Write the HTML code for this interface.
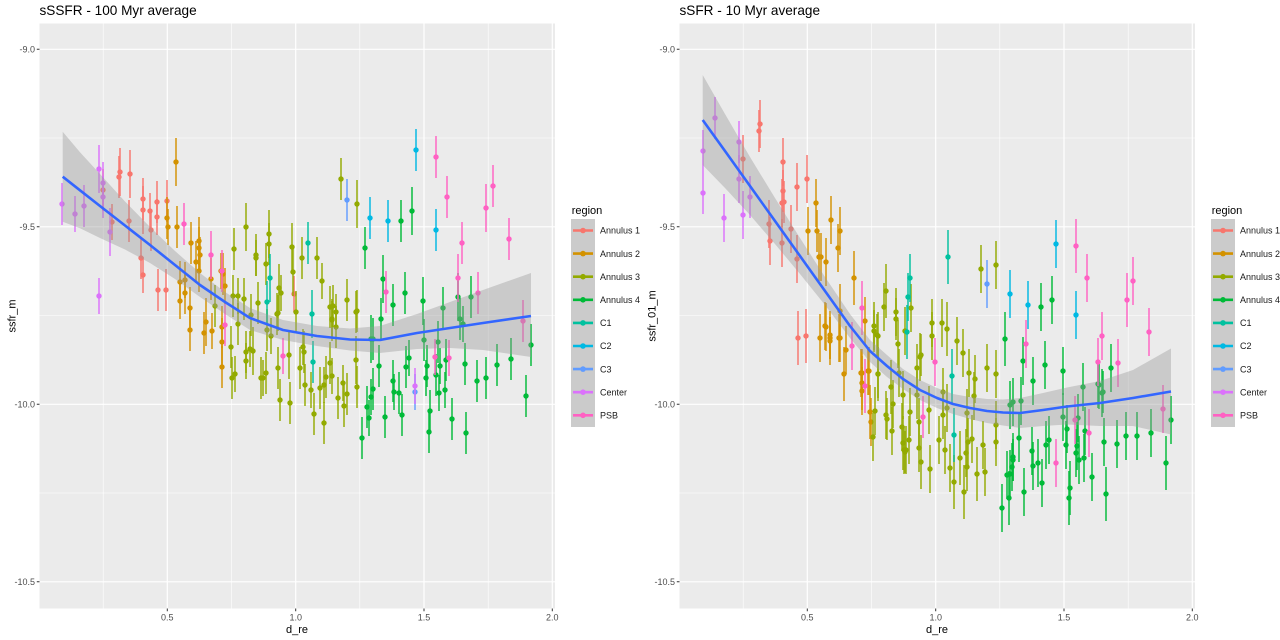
<!DOCTYPE html>
<html><head><meta charset="utf-8"><style>
html,body{margin:0;padding:0;background:#fff;}
svg{display:block;font-family:"Liberation Sans",Arial,sans-serif;}
.tk{font-size:9px;fill:#4D4D4D;}
.ttl{font-size:13.6px;fill:#000;}
.ax{font-size:11px;fill:#000;}
.lg{font-size:9px;fill:#1A1A1A;}
</style></head><body>
<svg width="1280" height="640" viewBox="0 0 1280 640" xmlns="http://www.w3.org/2000/svg">
<defs>
<g id="a"><path d="M0-18V18" stroke="currentColor" stroke-width="1.7" stroke-opacity=".85"/><circle r="2.7" fill="currentColor"/></g>
<g id="b"><path d="M0-21V21" stroke="currentColor" stroke-width="1.7" stroke-opacity=".85"/><circle r="2.7" fill="currentColor"/></g>
<g id="c"><path d="M0-24V24" stroke="currentColor" stroke-width="1.7" stroke-opacity=".85"/><circle r="2.7" fill="currentColor"/></g>
<g id="d"><path d="M0-27V27" stroke="currentColor" stroke-width="1.7" stroke-opacity=".85"/><circle r="2.7" fill="currentColor"/></g>
<clipPath id="cl"><rect x="39.5" y="23.5" width="515.5" height="585"/></clipPath>
<clipPath id="cr"><rect x="679.5" y="23.5" width="515.5" height="585"/></clipPath>
<clipPath id="cleg"><rect x="560" y="0" width="80" height="640"/></clipPath>
</defs>
<rect width="1280" height="640" fill="#fff"/>

<!-- ================= LEFT PANEL ================= -->
<text class="ttl" x="39.5" y="15">sSSFR - 100 Myr average</text>
<rect x="39.5" y="23.5" width="515.5" height="585" fill="#EBEBEB"/>
<g stroke="#fff" stroke-width="0.6">
<path d="M39.5 138H555M39.5 315.5H555M39.5 493H555M103.2 23.5V608.5M231.5 23.5V608.5M359.8 23.5V608.5M488.2 23.5V608.5"/>
</g>
<g stroke="#fff" stroke-width="1.2">
<path d="M39.5 49.3H555M39.5 226.8H555M39.5 404.3H555M39.5 581.8H555M167.3 23.5V608.5M295.7 23.5V608.5M424 23.5V608.5M552.3 23.5V608.5"/>
</g>
<g clip-path="url(#cl)">
<g color="#F8766D">
<use href="#c" x="120" y="172"/><use href="#b" x="119" y="177"/><use href="#c" x="130" y="174"/><use href="#b" x="129" y="221"/><use href="#a" x="112" y="222"/><use href="#b" x="143" y="199"/><use href="#c" x="143" y="210"/><use href="#a" x="150" y="211"/><use href="#b" x="151" y="230"/><use href="#b" x="157" y="202"/><use href="#a" x="157" y="217"/><use href="#b" x="167" y="201"/><use href="#b" x="141" y="258"/><use href="#a" x="143" y="275"/><use href="#b" x="158" y="290"/><use href="#b" x="166" y="290"/><use href="#b" x="103" y="190"/><use href="#a" x="294" y="294"/>
</g>
<g color="#D39200">
<use href="#c" x="176" y="162"/><use href="#b" x="167" y="218"/><use href="#a" x="168" y="227"/><use href="#b" x="177" y="227"/><use href="#b" x="191" y="243"/><use href="#c" x="199" y="241"/><use href="#a" x="200" y="255"/><use href="#b" x="199" y="248"/><use href="#b" x="199" y="271"/><use href="#b" x="180" y="282"/><use href="#a" x="185" y="280"/><use href="#b" x="185" y="293"/><use href="#a" x="180" y="301"/><use href="#b" x="190" y="308"/><use href="#b" x="190" y="330"/><use href="#c" x="206" y="322"/><use href="#b" x="204" y="333"/><use href="#a" x="212" y="331"/><use href="#b" x="211" y="279"/><use href="#b" x="223" y="274"/><use href="#a" x="225" y="286"/><use href="#b" x="222" y="327"/><use href="#c" x="222" y="342"/><use href="#b" x="222" y="367"/><use href="#a" x="221" y="271"/><use href="#b" x="196" y="262"/>
</g>
<g color="#93AA00">
<use href="#c" x="246" y="227"/><use href="#b" x="234" y="249"/><use href="#b" x="256" y="255"/><use href="#a" x="256" y="258"/><use href="#c" x="269" y="234"/><use href="#b" x="269" y="244"/><use href="#b" x="266" y="264"/><use href="#c" x="292" y="247"/><use href="#b" x="302" y="258"/><use href="#b" x="317" y="258"/><use href="#a" x="322" y="281"/><use href="#b" x="341" y="179"/><use href="#c" x="357" y="204"/><use href="#b" x="347" y="300"/><use href="#b" x="357" y="311"/><use href="#b" x="333" y="306"/><use href="#a" x="336" y="312"/><use href="#b" x="330" y="307"/><use href="#a" x="332" y="319"/><use href="#b" x="233" y="296"/><use href="#a" x="238" y="296"/><use href="#b" x="244" y="299"/><use href="#b" x="238" y="324"/><use href="#b" x="231" y="347"/><use href="#b" x="232" y="378"/><use href="#a" x="235" y="374"/><use href="#b" x="246" y="352"/><use href="#a" x="246" y="361"/><use href="#b" x="251" y="315"/><use href="#c" x="253" y="351"/><use href="#a" x="250" y="349"/><use href="#b" x="258" y="303"/><use href="#b" x="261" y="378"/><use href="#a" x="263" y="378"/><use href="#b" x="266" y="373"/><use href="#b" x="267" y="330"/><use href="#a" x="271" y="336"/><use href="#b" x="277" y="314"/><use href="#a" x="278" y="313"/><use href="#c" x="279" y="288"/><use href="#a" x="281" y="293"/><use href="#b" x="278" y="368"/><use href="#b" x="280" y="400"/><use href="#b" x="290" y="403"/><use href="#c" x="289" y="355"/><use href="#c" x="293" y="272"/><use href="#b" x="296" y="312"/><use href="#b" x="300" y="368"/><use href="#a" x="303" y="347"/><use href="#b" x="304" y="352"/><use href="#b" x="305" y="385"/><use href="#a" x="311" y="390"/><use href="#b" x="314" y="414"/><use href="#b" x="320" y="388"/><use href="#b" x="324" y="423"/><use href="#a" x="324" y="385"/><use href="#b" x="326" y="377"/><use href="#b" x="330" y="363"/><use href="#a" x="332" y="376"/><use href="#b" x="332" y="320"/><use href="#b" x="336" y="327"/><use href="#b" x="338" y="398"/><use href="#a" x="343" y="383"/><use href="#b" x="344" y="406"/><use href="#b" x="347" y="394"/><use href="#b" x="356" y="312"/><use href="#c" x="356" y="360"/><use href="#b" x="357" y="387"/><use href="#b" x="215" y="306"/>
</g>
<g color="#00BA38">
<use href="#b" x="365" y="248"/><use href="#b" x="401" y="221"/><use href="#c" x="412" y="211"/><use href="#c" x="383" y="279"/><use href="#b" x="393" y="305"/><use href="#b" x="405" y="293"/><use href="#b" x="381" y="319"/><use href="#c" x="371" y="339"/><use href="#b" x="373" y="339"/><use href="#b" x="379" y="366"/><use href="#b" x="373" y="389"/><use href="#a" x="371" y="397"/><use href="#b" x="367" y="407"/><use href="#a" x="369" y="418"/><use href="#b" x="362" y="438"/><use href="#b" x="385" y="417"/><use href="#b" x="393" y="381"/><use href="#a" x="394" y="392"/><use href="#b" x="399" y="393"/><use href="#b" x="402" y="415"/><use href="#b" x="406" y="367"/><use href="#a" x="409" y="358"/><use href="#c" x="423" y="301"/><use href="#b" x="424" y="340"/><use href="#b" x="427" y="366"/><use href="#a" x="426" y="378"/><use href="#b" x="430" y="411"/><use href="#b" x="429" y="432"/><use href="#b" x="438" y="342"/><use href="#b" x="436" y="375"/><use href="#a" x="439" y="393"/><use href="#b" x="443" y="308"/><use href="#b" x="446" y="360"/><use href="#a" x="445" y="390"/><use href="#b" x="452" y="419"/><use href="#c" x="458" y="297"/><use href="#b" x="460" y="319"/><use href="#a" x="463" y="324"/><use href="#b" x="465" y="364"/><use href="#b" x="466" y="433"/><use href="#b" x="471" y="297"/><use href="#b" x="477" y="381"/><use href="#b" x="486" y="378"/><use href="#b" x="497" y="365"/><use href="#b" x="511" y="359"/><use href="#b" x="526" y="396"/><use href="#b" x="531" y="345"/><use href="#a" x="440" y="366"/>
</g>
<g color="#00C19F">
<use href="#c" x="270" y="278"/><use href="#b" x="267" y="302"/><use href="#b" x="308" y="243"/><use href="#c" x="312" y="314"/><use href="#b" x="313" y="362"/>
</g>
<g color="#00B9E3">
<use href="#b" x="416" y="150"/><use href="#b" x="370" y="218"/><use href="#b" x="388" y="221"/><use href="#b" x="436" y="230"/>
</g>
<g color="#619CFF">
<use href="#b" x="347" y="200"/><use href="#a" x="415" y="392"/>
</g>
<g color="#DB72FB">
<use href="#b" x="62" y="204"/><use href="#a" x="75" y="214"/><use href="#b" x="84" y="206"/><use href="#c" x="99" y="169"/><use href="#b" x="103" y="183"/><use href="#b" x="103" y="197"/><use href="#a" x="99" y="296"/><use href="#c" x="110" y="232"/><use href="#a" x="415" y="386"/>
</g>
<g color="#FF61C3">
<use href="#b" x="184" y="224"/><use href="#c" x="211" y="255"/><use href="#b" x="222" y="271"/><use href="#b" x="225" y="325"/><use href="#b" x="436" y="157"/><use href="#b" x="447" y="197"/><use href="#c" x="486" y="208"/><use href="#b" x="493" y="186"/><use href="#b" x="509" y="239"/><use href="#b" x="462" y="243"/><use href="#b" x="478" y="293"/><use href="#b" x="523" y="321"/><use href="#b" x="386" y="292"/><use href="#a" x="449" y="358"/><use href="#a" x="435" y="357"/><use href="#c" x="458" y="278"/><use href="#a" x="283" y="356"/>
</g>
<polygon fill="#999999" fill-opacity="0.4" points="62.7,131.7 80,152.3 100,174 125,201.5 150,227 175,251 200,273 225,292 250,308 283,320 317,326 350,328.5 380,326 417,314 450,302 483,290 531,273 531,357 483,350 450,348 417,349 380,353 350,350.5 317,346 283,340 250,330 225,314 200,297 175,279 150,263 125,249.5 100,238 80,228.3 62.7,221.7"/>
<polyline fill="none" stroke="#3366FF" stroke-width="2.6" stroke-linejoin="round" points="62.7,176.7 80,190.3 100,206 125,225.5 150,245 175,265 200,285 225,302 250,318 283,330 317,336 350,339.5 380,340 417,333 450,328 483,323 531,316"/>
</g>
<!-- axes left -->
<g stroke="#333" stroke-width="1">
<path d="M36.8 49.3H39.5M36.8 226.8H39.5M36.8 404.3H39.5M36.8 581.8H39.5M167.3 608.5V611.2M295.7 608.5V611.2M424 608.5V611.2M552.3 608.5V611.2"/>
</g>
<g class="tk" text-anchor="end">
<text x="35" y="52.5">-9.0</text><text x="35" y="230">-9.5</text><text x="35" y="407.5">-10.0</text><text x="35" y="585">-10.5</text>
</g>
<g class="tk" text-anchor="middle">
<text x="167.3" y="620.5">0.5</text><text x="295.7" y="620.5">1.0</text><text x="424" y="620.5">1.5</text><text x="552.3" y="620.5">2.0</text>
</g>
<text class="ax" x="297" y="633" text-anchor="middle">d_re</text>
<text class="ax" transform="translate(15.5,316) rotate(-90)" text-anchor="middle">ssfr_m</text>
<!-- legend left -->
<g clip-path="url(#cleg)">
<text class="ax" x="571.7" y="214">region</text>
<rect x="571" y="219" width="24" height="208" fill="#CBCBCB"/>
<g stroke-width="2.6">
<path d="M573 230.5H593" stroke="#F8766D"/><path d="M573 253.6H593" stroke="#D39200"/><path d="M573 276.7H593" stroke="#93AA00"/><path d="M573 299.8H593" stroke="#00BA38"/><path d="M573 322.9H593" stroke="#00C19F"/><path d="M573 346H593" stroke="#00B9E3"/><path d="M573 369.1H593" stroke="#619CFF"/><path d="M573 392.2H593" stroke="#DB72FB"/><path d="M573 415.3H593" stroke="#FF61C3"/>
</g>
<g>
<circle cx="583" cy="230.5" r="2.8" fill="#F8766D"/><circle cx="583" cy="253.6" r="2.8" fill="#D39200"/><circle cx="583" cy="276.7" r="2.8" fill="#93AA00"/><circle cx="583" cy="299.8" r="2.8" fill="#00BA38"/><circle cx="583" cy="322.9" r="2.8" fill="#00C19F"/><circle cx="583" cy="346" r="2.8" fill="#00B9E3"/><circle cx="583" cy="369.1" r="2.8" fill="#619CFF"/><circle cx="583" cy="392.2" r="2.8" fill="#DB72FB"/><circle cx="583" cy="415.3" r="2.8" fill="#FF61C3"/>
</g>
<g class="lg">
<text x="600" y="233.7">Annulus 1</text><text x="600" y="256.8">Annulus 2</text><text x="600" y="279.9">Annulus 3</text><text x="600" y="303">Annulus 4</text><text x="600" y="326.1">C1</text><text x="600" y="349.2">C2</text><text x="600" y="372.3">C3</text><text x="600" y="395.4">Center</text><text x="600" y="418.5">PSB</text>
</g>
</g>

<!-- ================= RIGHT PANEL ================= -->
<text class="ttl" x="679.5" y="15">sSFR - 10 Myr average</text>
<rect x="679.5" y="23.5" width="515.5" height="585" fill="#EBEBEB"/>
<g stroke="#fff" stroke-width="0.6">
<path d="M679.5 138H1195M679.5 315.5H1195M679.5 493H1195M743.2 23.5V608.5M871.5 23.5V608.5M999.8 23.5V608.5M1128.2 23.5V608.5"/>
</g>
<g stroke="#fff" stroke-width="1.2">
<path d="M679.5 49.3H1195M679.5 226.8H1195M679.5 404.3H1195M679.5 581.8H1195M807.3 23.5V608.5M935.7 23.5V608.5M1064 23.5V608.5M1192.3 23.5V608.5"/>
</g>
<g clip-path="url(#cr)">
<g color="#F8766D">
<use href="#c" x="760" y="124"/><use href="#b" x="759" y="131"/><use href="#c" x="743" y="159"/><use href="#c" x="783" y="162"/><use href="#b" x="783" y="191"/><use href="#c" x="782" y="203"/><use href="#b" x="784" y="202"/><use href="#c" x="797" y="187"/><use href="#c" x="807" y="179"/><use href="#c" x="769" y="224"/><use href="#c" x="770" y="241"/><use href="#c" x="782" y="243"/><use href="#c" x="791" y="229"/><use href="#c" x="797" y="259"/><use href="#d" x="798" y="338"/><use href="#d" x="806" y="336"/>
</g>
<g color="#D39200">
<use href="#c" x="816" y="203"/><use href="#c" x="808" y="231"/><use href="#b" x="817" y="231"/><use href="#c" x="819" y="257"/><use href="#c" x="826" y="262"/><use href="#c" x="831" y="220"/><use href="#c" x="840" y="231"/><use href="#c" x="838" y="248"/><use href="#d" x="854" y="278"/><use href="#c" x="820" y="338"/><use href="#c" x="826" y="327"/><use href="#b" x="830" y="338"/><use href="#c" x="830" y="335"/><use href="#c" x="839" y="338"/><use href="#c" x="846" y="350"/><use href="#d" x="840" y="311"/><use href="#c" x="821" y="257"/><use href="#c" x="825" y="326"/><use href="#c" x="830" y="341"/><use href="#d" x="844" y="374"/><use href="#c" x="862" y="373"/><use href="#d" x="862" y="383"/><use href="#c" x="862" y="391"/><use href="#d" x="870" y="412"/><use href="#c" x="865" y="321"/><use href="#c" x="869" y="371"/><use href="#c" x="861" y="373"/><use href="#c" x="868" y="371"/><use href="#c" x="871" y="422"/><use href="#c" x="840" y="338"/>
</g>
<g color="#93AA00">
<use href="#c" x="981" y="269"/><use href="#c" x="996" y="265"/><use href="#d" x="886" y="291"/><use href="#c" x="884" y="307"/><use href="#c" x="896" y="312"/><use href="#b" x="896" y="319"/><use href="#c" x="874" y="326"/><use href="#b" x="874" y="331"/><use href="#c" x="878" y="336"/><use href="#d" x="878" y="374"/><use href="#c" x="905" y="331"/><use href="#c" x="911" y="308"/><use href="#c" x="898" y="344"/><use href="#c" x="899" y="373"/><use href="#d" x="891" y="387"/><use href="#c" x="893" y="404"/><use href="#c" x="886" y="415"/><use href="#b" x="887" y="419"/><use href="#c" x="892" y="431"/><use href="#c" x="902" y="427"/><use href="#d" x="903" y="443"/><use href="#c" x="906" y="450"/><use href="#b" x="905" y="452"/><use href="#c" x="910" y="412"/><use href="#c" x="920" y="357"/><use href="#b" x="921" y="355"/><use href="#c" x="917" y="368"/><use href="#c" x="917" y="395"/><use href="#c" x="919" y="422"/><use href="#c" x="919" y="448"/><use href="#d" x="921" y="462"/><use href="#c" x="930" y="469"/><use href="#c" x="929" y="410"/><use href="#c" x="932" y="323"/><use href="#c" x="932" y="336"/><use href="#c" x="942" y="323"/><use href="#d" x="947" y="329"/><use href="#c" x="943" y="392"/><use href="#c" x="943" y="415"/><use href="#c" x="939" y="440"/><use href="#c" x="945" y="450"/><use href="#c" x="950" y="468"/><use href="#d" x="954" y="482"/><use href="#c" x="957" y="341"/><use href="#c" x="963" y="353"/><use href="#d" x="960" y="458"/><use href="#d" x="964" y="492"/><use href="#c" x="966" y="453"/><use href="#c" x="967" y="467"/><use href="#c" x="968" y="442"/><use href="#c" x="969" y="373"/><use href="#c" x="975" y="379"/><use href="#c" x="972" y="439"/><use href="#d" x="977" y="474"/><use href="#c" x="983" y="445"/><use href="#c" x="985" y="472"/><use href="#c" x="987" y="368"/><use href="#c" x="996" y="374"/><use href="#c" x="996" y="442"/><use href="#c" x="996" y="425"/><use href="#c" x="974" y="396"/><use href="#c" x="967" y="413"/><use href="#c" x="947" y="408"/><use href="#c" x="909" y="440"/><use href="#c" x="873" y="437"/><use href="#c" x="875" y="411"/><use href="#c" x="878" y="374"/><use href="#c" x="904" y="450"/><use href="#c" x="903" y="395"/><use href="#b" x="877" y="335"/>
</g>
<g color="#00BA38">
<use href="#d" x="1005" y="339"/><use href="#c" x="1041" y="307"/><use href="#c" x="1052" y="300"/><use href="#c" x="1023" y="361"/><use href="#c" x="1033" y="381"/><use href="#c" x="1045" y="365"/><use href="#c" x="1063" y="371"/><use href="#c" x="1083" y="387"/><use href="#c" x="1111" y="368"/><use href="#c" x="1098" y="384"/><use href="#c" x="1010" y="405"/><use href="#c" x="1013" y="402"/><use href="#c" x="1021" y="401"/><use href="#c" x="1019" y="438"/><use href="#c" x="1013" y="457"/><use href="#b" x="1013" y="460"/><use href="#c" x="1012" y="467"/><use href="#c" x="1010" y="474"/><use href="#c" x="1007" y="475"/><use href="#d" x="1009" y="498"/><use href="#c" x="1002" y="508"/><use href="#c" x="1024" y="492"/><use href="#c" x="1032" y="451"/><use href="#c" x="1033" y="466"/><use href="#c" x="1038" y="463"/><use href="#c" x="1042" y="483"/><use href="#c" x="1046" y="445"/><use href="#c" x="1049" y="440"/><use href="#c" x="1063" y="417"/><use href="#c" x="1067" y="429"/><use href="#c" x="1066" y="445"/><use href="#d" x="1070" y="488"/><use href="#d" x="1069" y="498"/><use href="#c" x="1076" y="453"/><use href="#c" x="1077" y="446"/><use href="#c" x="1078" y="418"/><use href="#c" x="1079" y="460"/><use href="#c" x="1084" y="458"/><use href="#c" x="1085" y="431"/><use href="#c" x="1092" y="477"/><use href="#c" x="1099" y="385"/><use href="#c" x="1102" y="393"/><use href="#b" x="1103" y="392"/><use href="#c" x="1104" y="442"/><use href="#d" x="1106" y="494"/><use href="#c" x="1117" y="444"/><use href="#c" x="1126" y="436"/><use href="#c" x="1137" y="436"/><use href="#c" x="1151" y="433"/><use href="#d" x="1166" y="463"/><use href="#c" x="1171" y="420"/>
</g>
<g color="#00C19F">
<use href="#d" x="948" y="257"/><use href="#c" x="910" y="278"/><use href="#c" x="908" y="297"/><use href="#d" x="907" y="332"/><use href="#d" x="952" y="376"/><use href="#d" x="954" y="435"/>
</g>
<g color="#00B9E3">
<use href="#c" x="1056" y="244"/><use href="#c" x="1010" y="294"/><use href="#c" x="1028" y="305"/><use href="#c" x="1076" y="315"/>
</g>
<g color="#619CFF">
<use href="#c" x="987" y="284"/>
</g>
<g color="#DB72FB">
<use href="#b" x="715" y="118"/><use href="#b" x="703" y="151"/><use href="#b" x="703" y="193"/><use href="#c" x="724" y="218"/><use href="#b" x="739" y="142"/><use href="#c" x="739" y="179"/><use href="#c" x="743" y="215"/><use href="#b" x="750" y="197"/>
</g>
<g color="#FF61C3">
<use href="#d" x="862" y="308"/><use href="#c" x="852" y="346"/><use href="#d" x="865" y="386"/><use href="#c" x="935" y="362"/><use href="#b" x="923" y="417"/><use href="#d" x="1076" y="246"/><use href="#c" x="1087" y="278"/><use href="#d" x="1127" y="300"/><use href="#c" x="1133" y="281"/><use href="#c" x="1149" y="332"/><use href="#c" x="1102" y="336"/><use href="#c" x="1118" y="363"/><use href="#c" x="1026" y="344"/><use href="#c" x="1056" y="463"/><use href="#c" x="1089" y="433"/><use href="#c" x="1075" y="420"/><use href="#c" x="1163" y="409"/><use href="#c" x="1098" y="362"/>
</g>
<polygon fill="#999999" fill-opacity="0.4" points="702.7,75 725,114 750,157 775,198 800,238 825,277 850,314 870,340 887,355 903,369 920,380 937,388 953,394 970,397 987,399 1003,399.5 1020,398 1043,393 1067,387.5 1100,381 1133,370 1171,348.5 1171,434.5 1133,426 1100,426 1067,424.5 1043,426 1020,428 1003,425.5 987,423 970,419 953,414 937,408 920,400 903,389 887,377 870,362 850,338 825,305 800,274 775,244 750,215 725,188 702.7,165"/>
<polyline fill="none" stroke="#3366FF" stroke-width="2.6" stroke-linejoin="round" points="702.7,120 725,151 750,186 775,221 800,256 825,291 850,326 870,351 887,366 903,379 920,390 937,398 953,404 970,408 987,411 1003,412.5 1020,413 1043,410 1067,406.5 1100,403 1133,398 1171,391.5"/>
</g>
<!-- axes right -->
<g stroke="#333" stroke-width="1">
<path d="M676.8 49.3H679.5M676.8 226.8H679.5M676.8 404.3H679.5M676.8 581.8H679.5M807.3 608.5V611.2M935.7 608.5V611.2M1064 608.5V611.2M1192.3 608.5V611.2"/>
</g>
<g class="tk" text-anchor="end">
<text x="675" y="52.5">-9.0</text><text x="675" y="230">-9.5</text><text x="675" y="407.5">-10.0</text><text x="675" y="585">-10.5</text>
</g>
<g class="tk" text-anchor="middle">
<text x="807.3" y="620.5">0.5</text><text x="935.7" y="620.5">1.0</text><text x="1064" y="620.5">1.5</text><text x="1192.3" y="620.5">2.0</text>
</g>
<text class="ax" x="937" y="633" text-anchor="middle">d_re</text>
<text class="ax" transform="translate(655.5,316) rotate(-90)" text-anchor="middle">ssfr_01_m</text>
<!-- legend right -->
<text class="ax" x="1211.7" y="214">region</text>
<rect x="1211" y="219" width="24" height="208" fill="#CBCBCB"/>
<g stroke-width="2.6">
<path d="M1213 230.5H1233" stroke="#F8766D"/><path d="M1213 253.6H1233" stroke="#D39200"/><path d="M1213 276.7H1233" stroke="#93AA00"/><path d="M1213 299.8H1233" stroke="#00BA38"/><path d="M1213 322.9H1233" stroke="#00C19F"/><path d="M1213 346H1233" stroke="#00B9E3"/><path d="M1213 369.1H1233" stroke="#619CFF"/><path d="M1213 392.2H1233" stroke="#DB72FB"/><path d="M1213 415.3H1233" stroke="#FF61C3"/>
</g>
<g>
<circle cx="1223" cy="230.5" r="2.8" fill="#F8766D"/><circle cx="1223" cy="253.6" r="2.8" fill="#D39200"/><circle cx="1223" cy="276.7" r="2.8" fill="#93AA00"/><circle cx="1223" cy="299.8" r="2.8" fill="#00BA38"/><circle cx="1223" cy="322.9" r="2.8" fill="#00C19F"/><circle cx="1223" cy="346" r="2.8" fill="#00B9E3"/><circle cx="1223" cy="369.1" r="2.8" fill="#619CFF"/><circle cx="1223" cy="392.2" r="2.8" fill="#DB72FB"/><circle cx="1223" cy="415.3" r="2.8" fill="#FF61C3"/>
</g>
<g class="lg">
<text x="1240" y="233.7">Annulus 1</text><text x="1240" y="256.8">Annulus 2</text><text x="1240" y="279.9">Annulus 3</text><text x="1240" y="303">Annulus 4</text><text x="1240" y="326.1">C1</text><text x="1240" y="349.2">C2</text><text x="1240" y="372.3">C3</text><text x="1240" y="395.4">Center</text><text x="1240" y="418.5">PSB</text>
</g>
</svg>
</body></html>
